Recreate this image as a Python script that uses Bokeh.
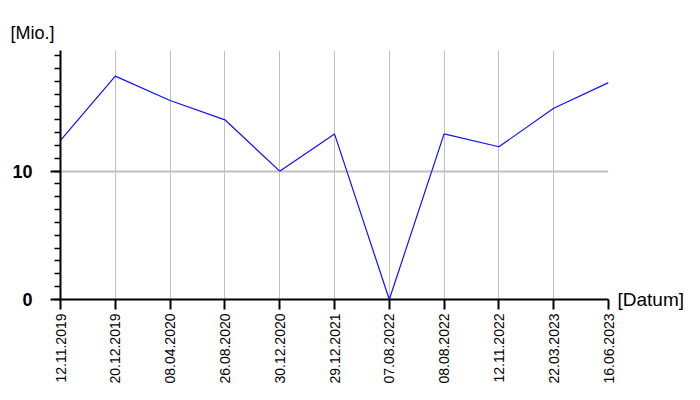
import math
from bokeh.plotting import figure
from bokeh.models import FixedTicker, Range1d, LinearAxis
from bokeh.embed import file_html
from bokeh.resources import INLINE

dates = ["12.11.2019", "20.12.2019", "08.04.2020", "26.08.2020", "30.12.2020",
         "29.12.2021", "07.08.2022", "08.08.2022", "12.11.2022", "22.03.2023", "16.06.2023"]
values = [12.4, 17.4, 15.5, 14.0, 10.0, 12.9, 0.0, 12.9, 11.9, 14.9, 16.9]
y_ticks = [0, 10]
y_label = "[Mio.]"
x_label = "[Datum]"

xs = list(range(len(dates)))
Y_END = 19.4

p = figure(frame_width=548, frame_height=249, output_backend="svg", toolbar_location=None,
           x_range=Range1d(0, len(dates) - 1), y_range=Range1d(0, Y_END),
           min_border_left=60, min_border_right=10, min_border_top=50, min_border_bottom=10)
p.outline_line_color = None
p.background_fill_color = "white"

p.line(xs, values, line_color="#1010ff", line_width=1.2)

# title "[Mio.]"
p.title.text = y_label
p.title.align = "left"
p.title.offset = -50
p.title.text_font = "Liberation Sans"
p.title.text_font_size = "18px"
p.title.text_font_style = "normal"
p.title.text_color = "black"
p.title.standoff = 16

# x axis
p.xaxis.ticker = FixedTicker(ticks=xs)
p.xaxis.major_label_overrides = {i: d for i, d in enumerate(dates)}
p.xaxis.major_label_orientation = math.pi / 2
p.xaxis.major_label_text_font = "Liberation Sans"
p.xaxis.major_label_text_font_size = "14px"
p.xaxis.major_label_text_color = "black"
p.xaxis.major_label_standoff = 4
p.xaxis.axis_line_width = 2
p.xaxis.axis_line_color = "black"
p.xaxis.major_tick_out = 10
p.xaxis.major_tick_in = 0
p.xaxis.major_tick_line_width = 2
p.xaxis.minor_tick_line_color = None

# y axis
p.yaxis.ticker = FixedTicker(ticks=y_ticks, minor_ticks=list(range(0, 20)))
p.yaxis.major_label_text_font = "Liberation Sans"
p.yaxis.major_label_text_font_size = "18px"
p.yaxis.major_label_text_font_style = "bold"
p.yaxis.major_label_text_color = "black"
p.yaxis.major_label_standoff = 18
p.yaxis.axis_line_width = 2
p.yaxis.axis_line_color = "black"
p.yaxis.major_tick_out = 10
p.yaxis.major_tick_in = 0
p.yaxis.major_tick_line_width = 2
p.yaxis.minor_tick_out = 6
p.yaxis.minor_tick_in = 0
p.yaxis.minor_tick_line_width = 1.5

# right axis used only to show "[Datum]" next to the end of the x axis
ax_r = LinearAxis(ticker=FixedTicker(ticks=[0]), major_label_overrides={0: x_label})
ax_r.axis_line_color = None
ax_r.major_tick_line_color = None
ax_r.minor_tick_line_color = None
ax_r.major_label_standoff = 3
ax_r.major_label_text_font = "Liberation Sans"
ax_r.major_label_text_font_size = "19px"
ax_r.major_label_text_color = "black"
p.add_layout(ax_r, "right")

# grids
p.xgrid.grid_line_color = "#c0c0c0"
p.xgrid.grid_line_width = 1
p.ygrid.grid_line_color = "#c0c0c0"
p.ygrid.grid_line_width = 2

open("out.html", "w").write(file_html(p, INLINE))
